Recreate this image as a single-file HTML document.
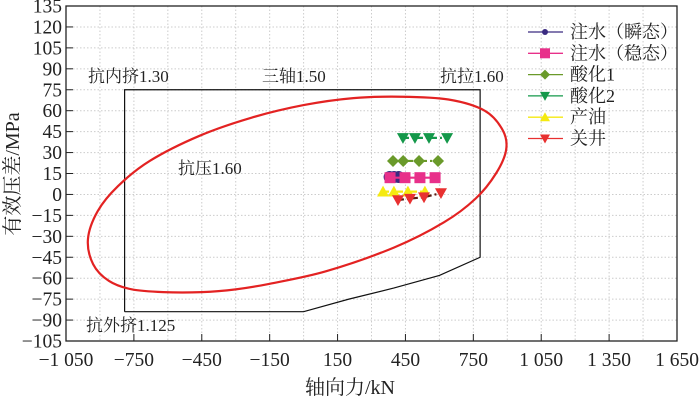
<!DOCTYPE html>
<html><head><meta charset="utf-8"><style>
body{margin:0;background:#fff;}
svg text{font-family:"Liberation Serif","Noto Serif CJK SC",serif;fill:#222;}
</style></head><body>
<svg id="c" width="700" height="401"></svg>
<script>
const xTicks=[-1050,-750,-450,-150,150,450,750,1050,1350,1650];
const xTickLabels=["−1 050","−750","−450","−150","150","450","750","1 050","1 350","1 650"];
const yTicks=[135,120,105,90,75,60,45,30,15,0,-15,-30,-45,-60,-75,-90,-105];
const envX=[-791,-791,780,780,600,400,200,0,-791];
const envY=[-84,75,75,-45,-58,-67,-75,-84,-84];
const ellX=[-953,-930,-860,-760,-620,-450,-300,-150,100,400,620,760,850,895,880,800,640,430,220,0,-230,-460,-680,-820,-910];
const ellY=[-32,-50,-62,-68,-70,-70,-68,-64,-55,-38,-20,-3,15,32,46,60,68,70,69,64,55,42,24,6,-12];
const seriesNames=["注水（瞬态）","注水（稳态）","酸化1","酸化2","产油","关井"];
const s1x=[380,400,420],s1y=[12.5,12.5,12.5];
const s2x=[382,448,514,581],s2y=[12,12,12,12];
const s3x=[395,440,510,594],s3y=[24,24,24,24];
const s4x=[439,492,554,634],s4y=[40.5,40.5,40.5,40.5];
const s5x=[351,399,461,536],s5y=[2,2,2,2];
const s6x=[417,470,532,607],s6y=[-4,-3,-2,1];
const NS="http://www.w3.org/2000/svg";
const svg=document.getElementById('c');
const L=66,R=677,T=6,B=341;
const X=v=>L+(v+1050)/2700*(R-L);
const Y=v=>T+(135-v)/240*(B-T);
function el(t,a,p){const e=document.createElementNS(NS,t);for(const k in a)e.setAttribute(k,a[k]);(p||svg).appendChild(e);return e;}
for(let v=-1050;v<=1650;v+=150){const g=el('line',{x1:X(v),x2:X(v),y1:T,y2:B,stroke:'#ccc','stroke-dasharray':'1.5,2'});

}
for(const v of yTicks){const g=el('line',{x1:L,x2:R,y1:Y(v),y2:Y(v),stroke:'#ccc','stroke-dasharray':'1.5,2'});

}
const fr=el('rect',{x:L,y:T,width:R-L,height:B-T,fill:'none',stroke:'#222','stroke-width':1.3});


xTicks.forEach((v,i)=>{
 el('line',{x1:X(v),x2:X(v),y1:B,y2:B-7,stroke:'#222'});
 const t=el('text',{x:X(v),y:B+25,'text-anchor':'middle','font-size':19.5});t.textContent=xTickLabels[i];
 
 
});
yTicks.forEach(v=>{
 el('line',{x1:L,x2:L+7,y1:Y(v),y2:Y(v),stroke:'#222'});
 const t=el('text',{x:L-4,y:Y(v)+6.5,'text-anchor':'end','font-size':19.5});t.textContent=(v<0?'−':'')+Math.abs(v);
 
 
});
const xt=el('text',{x:350,y:394,'text-anchor':'middle','font-size':20});xt.textContent='轴向力/kN';


const yt=el('text',{x:0,y:0,'text-anchor':'middle','font-size':20,transform:'translate(19,174) rotate(-90)'});yt.textContent='有效压差/MPa';


const env=el('polyline',{points:envX.map((v,i)=>X(v)+','+Y(envY[i])).join(' '),fill:'none',stroke:'#111','stroke-width':1.2});


// closed catmull-rom spline
const P=ellX.map((v,i)=>[X(v),Y(ellY[i])]);
const n=P.length;let d=`M${P[0][0]},${P[0][1]}`;
for(let i=0;i<n;i++){const p0=P[(i-1+n)%n],p1=P[i],p2=P[(i+1)%n],p3=P[(i+2)%n];
 d+=` C${p1[0]+(p2[0]-p0[0])/6},${p1[1]+(p2[1]-p0[1])/6} ${p2[0]-(p3[0]-p1[0])/6},${p2[1]-(p3[1]-p1[1])/6} ${p2[0]},${p2[1]}`;}
const ell=el('path',{d:d,fill:'none',stroke:'#e32222','stroke-width':2.2});


[['抗内挤1.30',88,82],['三轴1.50',262,82],['抗拉1.60',440,82],['抗压1.60',178,174],['抗外挤1.125',86,331]].forEach(a=>{
 const t=el('text',{x:a[1],y:a[2],'font-size':17});t.textContent=a[0];
 
 
});
function marker(type,x,y,c,g,s){
 s=s||5;
 if(type==='circle')return el('circle',{cx:x,cy:y,r:s,fill:c},g);
 if(type==='square')return el('rect',{x:x-s,y:y-s,width:2*s,height:2*s,fill:c},g);
 if(type==='diamond')return el('polygon',{points:`${x},${y-s} ${x+s},${y} ${x},${y+s} ${x-s},${y}`,fill:c},g);
 if(type==='up')return el('polygon',{points:`${x},${y-s} ${x+s},${y+s*0.8} ${x-s},${y+s*0.8}`,fill:c},g);
 return el('polygon',{points:`${x},${y+s} ${x+s},${y-s*0.8} ${x-s},${y-s*0.8}`,fill:c},g);
}
const series=[
 [s1x,s1y,'#3a2a80','#3a2a80','circle',''],
 [s2x,s2y,'#e8308a','#e8308a','square',''],
 [s3x,s3y,'#6a9a2a','#6a9a2a','diamond','6,3,2,3'],
 [s4x,s4y,'#14984a','#14984a','down','6,3,2,3'],
 [s5x,s5y,'#f5ea10','#f5ea10','up','6,3,2,3'],
 [s6x,s6y,'#e83030','#5a1a10','down','6,3,2,3']];
series.forEach((s,i)=>{
 const g=el('g',{});
 
 
 el('polyline',{points:s[0].map((v,j)=>X(v)+','+Y(s[1][j])).join(' '),fill:'none',stroke:s[3],'stroke-width':2.2,'stroke-dasharray':s[5]},g);
 s[0].forEach((v,j)=>marker(s[4],X(v),Y(s[1][j]),s[2],g,s[4]==='square'?5.5:6));
 const ly=32+i*21.3;
 const lg=el('g',{});
 
 
 el('line',{x1:528,x2:563,y1:ly,y2:ly,stroke:i==0?'#3a2a80':s[2],'stroke-width':1.3},lg);
 marker(s[4],545,ly,s[2],lg,s[4]==='circle'?3:5);
 const t=el('text',{x:570,y:ly+6,'font-size':18},lg);t.textContent=seriesNames[i];
});
</script>
</body></html>
